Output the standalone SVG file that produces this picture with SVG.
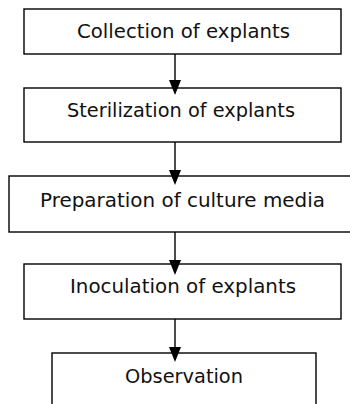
<svg xmlns="http://www.w3.org/2000/svg" width="350" height="404" viewBox="0 0 350 404">
  <style>
    .box { fill: #ffffff; stroke: #000000; stroke-width: 1.4; }
    .lbl { font-family: "DejaVu Sans", "Liberation Sans", sans-serif; font-size: 19.5px; fill: #111111; text-anchor: middle; }
    .conn { stroke: #000000; stroke-width: 1.4; fill: none; }
  </style>
  <defs>
    <marker id="arrow" markerUnits="userSpaceOnUse" markerWidth="15" markerHeight="12" refX="0" refY="6" orient="auto">
      <path d="M0,0 L15,6 L0,12 z" fill="#000000"/>
    </marker>
  </defs>
  <rect width="350" height="404" fill="#ffffff"/>
  <g id="n1">
    <rect class="box" x="24" y="9" width="317" height="45"/>
    <text class="lbl" x="183.5" y="38" textLength="213" lengthAdjust="spacingAndGlyphs">Collection of explants</text>
  </g>
  <g id="n2">
    <rect class="box" x="24" y="88" width="317" height="54"/>
    <text class="lbl" x="181" y="117" textLength="228" lengthAdjust="spacingAndGlyphs">Sterilization of explants</text>
  </g>
  <g id="n3">
    <rect class="box" x="9" y="176" width="347" height="56"/>
    <text class="lbl" x="182.5" y="207" textLength="285" lengthAdjust="spacingAndGlyphs">Preparation of culture media</text>
  </g>
  <g id="n4">
    <rect class="box" x="24" y="264" width="317" height="55"/>
    <text class="lbl" x="183" y="293" textLength="226" lengthAdjust="spacingAndGlyphs">Inoculation of explants</text>
  </g>
  <g id="n5">
    <rect class="box" x="52" y="353" width="264" height="60"/>
    <text class="lbl" x="184" y="383" textLength="118" lengthAdjust="spacingAndGlyphs">Observation</text>
  </g>
  <g id="connectors">
    <line class="conn" x1="175" y1="54" x2="175" y2="80" marker-end="url(#arrow)"/>
    <line class="conn" x1="175" y1="142" x2="175" y2="170" marker-end="url(#arrow)"/>
    <line class="conn" x1="175" y1="232" x2="175" y2="260" marker-end="url(#arrow)"/>
    <line class="conn" x1="175" y1="319" x2="175" y2="347" marker-end="url(#arrow)"/>
  </g>
</svg>
